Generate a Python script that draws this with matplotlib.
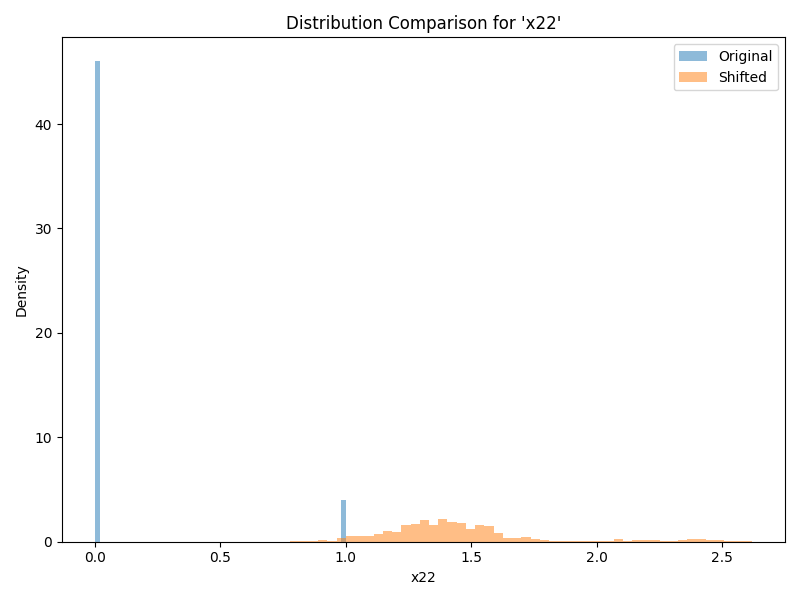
import numpy as np
import matplotlib.pyplot as plt

# original: 50 bins over [0, 1], only the end bins are non-empty
orig_edges = np.linspace(0, 1, 51)
orig_density = np.zeros(50)
orig_density[0] = 46.0
orig_density[-1] = 4.0

# shifted: 50 bins over [0.78, 2.62]
shift_edges = np.linspace(0.78, 2.62, 51)
shift_density = [0.1, 0.1, 0.1, 0.2, 0.1, 0.4, 0.57, 0.57, 0.57, 0.76,
                 1.05, 0.95, 1.62, 1.72, 2.1, 1.62, 2.2, 1.9, 1.8, 1.24,
                 1.62, 1.53, 0.86, 0.38, 0.38, 0.45, 0.25, 0.16, 0.06, 0.03,
                 0.03, 0.03, 0.03, 0.03, 0.03, 0.25, 0.03, 0.16, 0.16, 0.16,
                 0.03, 0.03, 0.16, 0.25, 0.25, 0.16, 0.16, 0.06, 0.06, 0.06]

fig, ax = plt.subplots(figsize=(8, 6), dpi=100)
ax.hist((orig_edges[:-1] + orig_edges[1:]) / 2, bins=orig_edges,
        weights=orig_density, alpha=0.5, label='Original')
ax.hist((shift_edges[:-1] + shift_edges[1:]) / 2, bins=shift_edges,
        weights=shift_density, alpha=0.5, label='Shifted')
ax.set_title("Distribution Comparison for 'x22'")
ax.set_xlabel('x22')
ax.set_ylabel('Density')
ax.legend()
fig.tight_layout()
fig.savefig('out.png')
